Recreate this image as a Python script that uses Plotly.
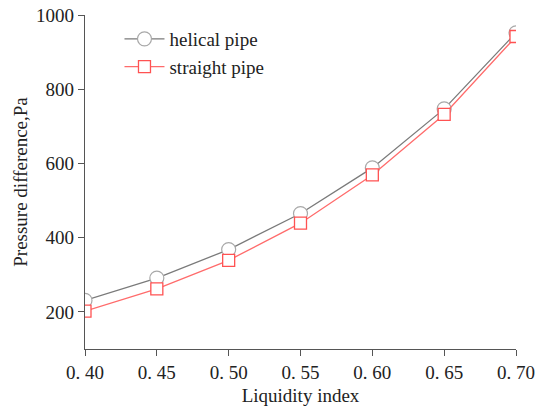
import plotly.graph_objects as go

liquidity = [0.40, 0.45, 0.50, 0.55, 0.60, 0.65, 0.70]
helical = [231, 291, 368, 465, 588, 747, 952]
straight = [202, 262, 339, 439, 569, 732, 942]
x_ticks = [0.40, 0.45, 0.50, 0.55, 0.60, 0.65, 0.70]
x_tick_text = ["0. 40", "0. 45", "0. 50", "0. 55", "0. 60", "0. 65", "0. 70"]
y_ticks = [200, 400, 600, 800, 1000]

font_family = "Liberation Serif, Times New Roman, serif"

fig = go.Figure()
fig.add_trace(go.Scatter(
    x=liquidity, y=helical, name="helical pipe", mode="lines+markers",
    line=dict(color="#7a7a7a", width=1.3),
    marker=dict(symbol="circle", size=14, color="white", line=dict(width=1.2, color="#a8a8a8")),
))
fig.add_trace(go.Scatter(
    x=liquidity, y=straight, name="straight pipe", mode="lines+markers",
    line=dict(color="#ff6b6b", width=1.3),
    marker=dict(symbol="square", size=12, color="white", line=dict(width=1.3, color="#ff5252")),
))

fig.update_layout(
    width=537, height=408,
    margin=dict(l=85, r=21, t=15, b=59),
    paper_bgcolor="white", plot_bgcolor="white",
    font=dict(family=font_family, size=19, color="#222222"),
    showlegend=True,
    legend=dict(x=0.08, y=0.985, xanchor="left", yanchor="top",
                bgcolor="rgba(0,0,0,0)", font=dict(size=19),
                tracegroupgap=0, itemwidth=40),
    xaxis=dict(
        range=[0.40, 0.70], tickvals=x_ticks, ticktext=x_tick_text,
        showgrid=False, zeroline=False, showline=True, linecolor="#555555", linewidth=1.3,
        ticks="outside", ticklen=6, tickcolor="#555555", tickwidth=1.3,
        title=dict(text="Liquidity index", standoff=6, font=dict(size=19)),
        tickfont=dict(size=19), automargin=False,
    ),
    yaxis=dict(
        range=[100, 1000], tickvals=y_ticks,
        showgrid=False, zeroline=False, showline=True, linecolor="#555555", linewidth=1.3,
        ticks="outside", ticklen=6, tickcolor="#555555", tickwidth=1.3,
        title=dict(text="Pressure difference,Pa", standoff=3, font=dict(size=19)),
        tickfont=dict(size=19), automargin=False,
    ),
)

fig.write_html("out.html")
